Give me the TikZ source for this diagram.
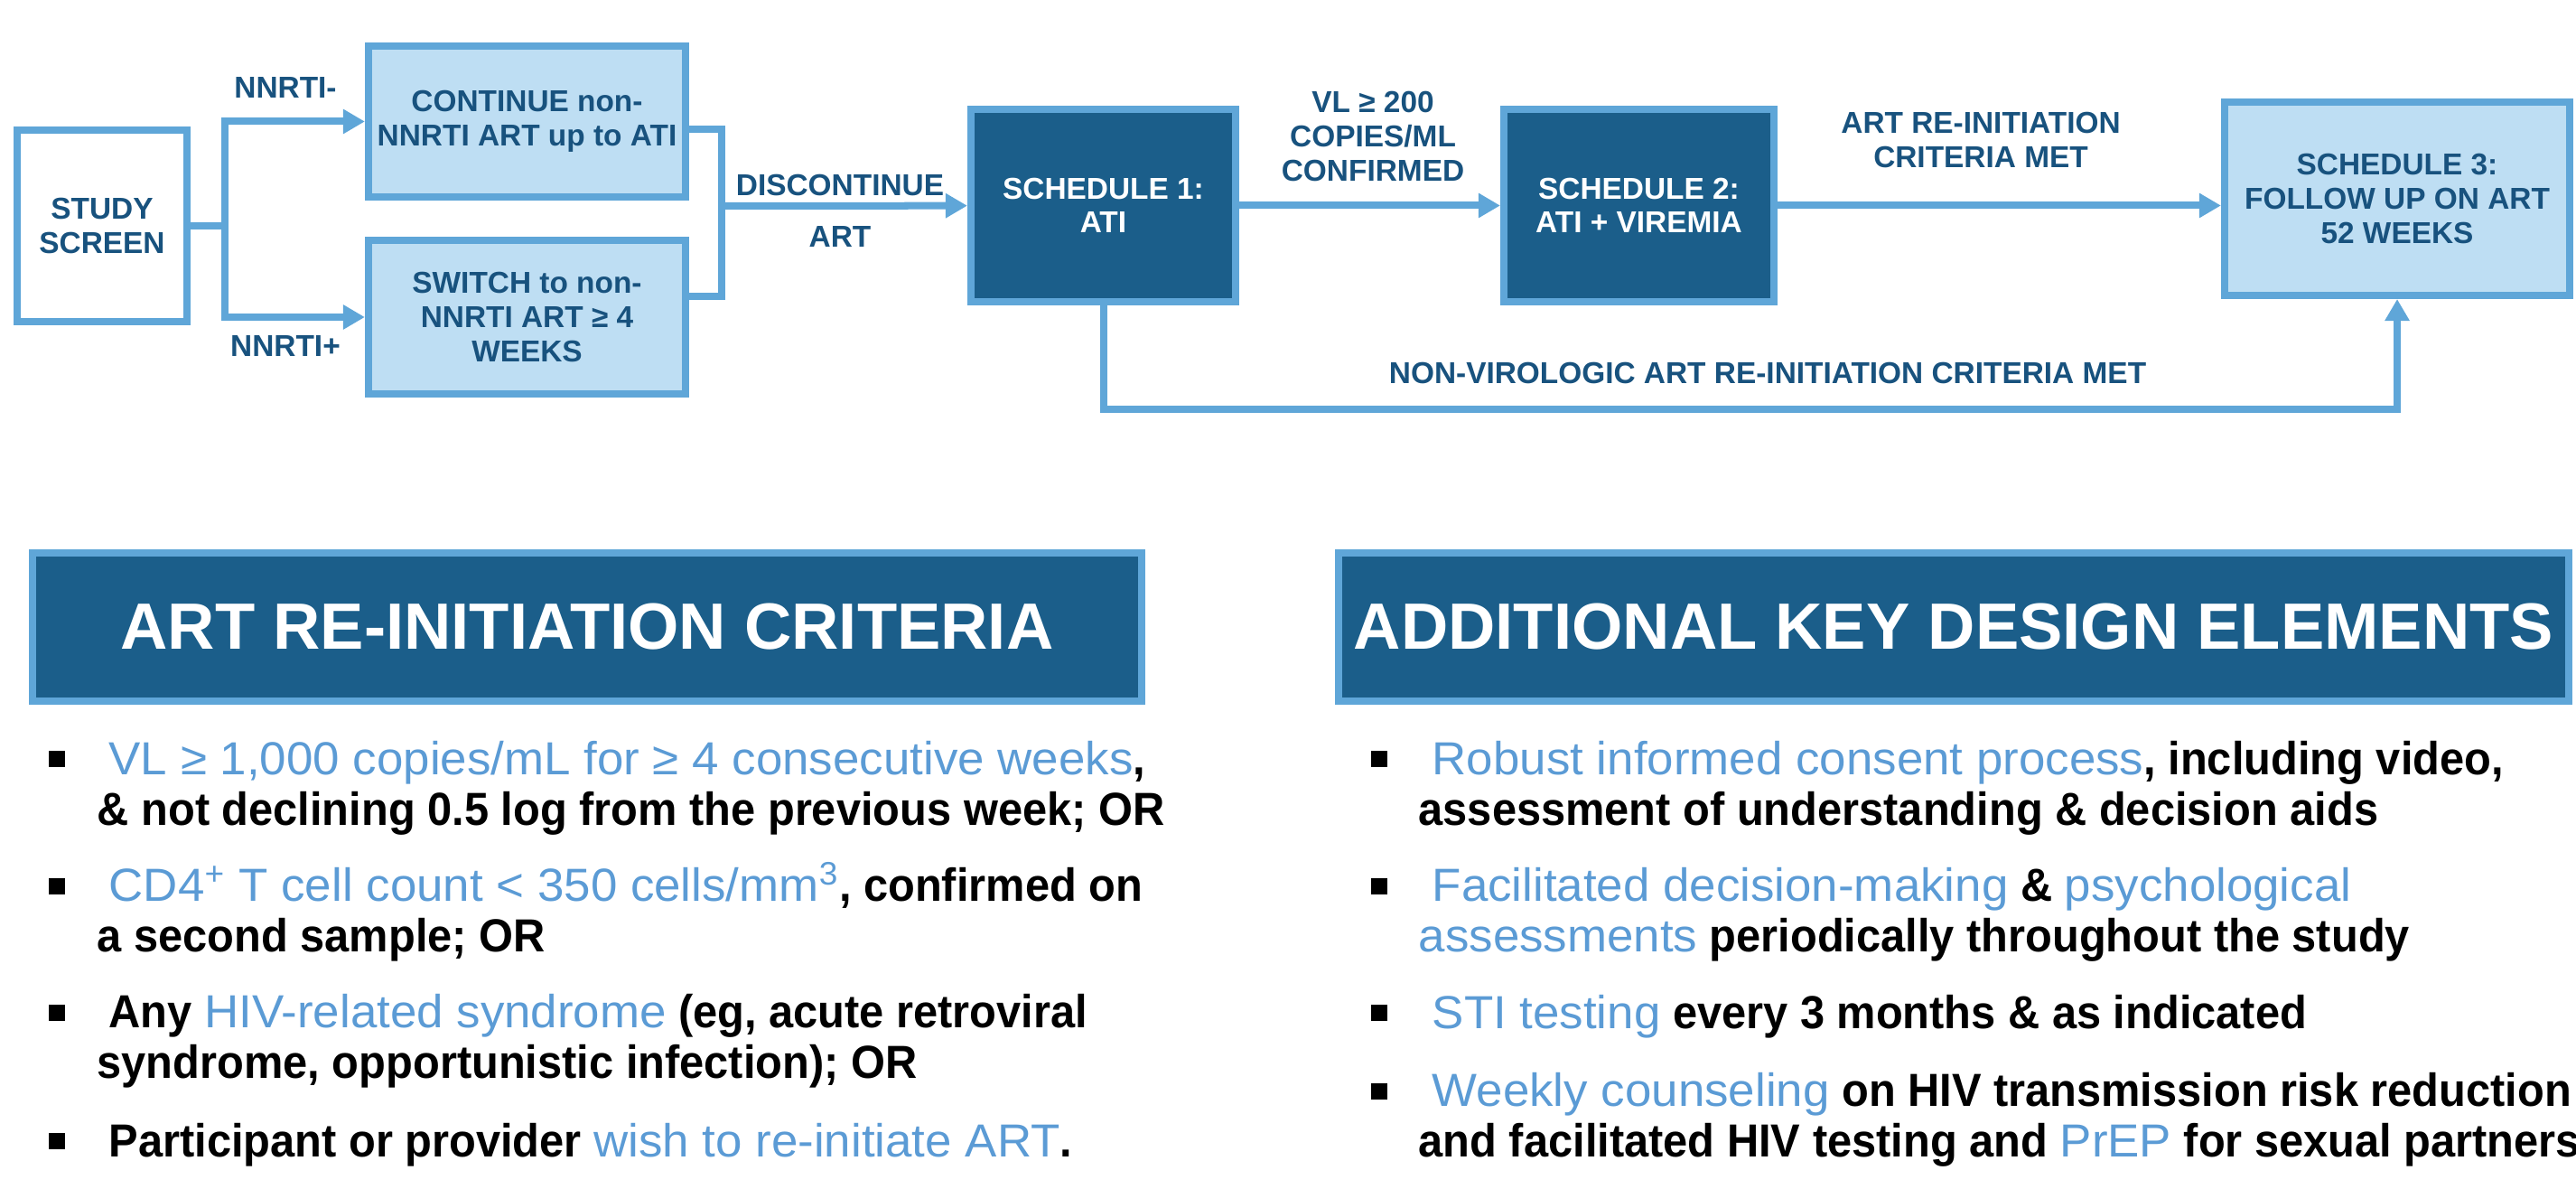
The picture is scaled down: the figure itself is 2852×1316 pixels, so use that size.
\documentclass[tikz,border=0pt]{standalone}
\usepackage{fontspec}
\setmainfont{Liberation Sans}
\newfontfamily\bodyfont{Liberation Sans}[UprightFeatures={FakeStretch=1.03},BoldFeatures={FakeStretch=0.95}]
\usetikzlibrary{arrows.meta, positioning}
\definecolor{navy}{RGB}{27,94,138}
\definecolor{edgeblue}{RGB}{95,166,216}
\definecolor{paleblue}{RGB}{190,222,243}
\definecolor{labelblue}{RGB}{24,82,126}
\definecolor{hlblue}{RGB}{91,155,213}
\newcommand{\hl}[1]{{\mdseries\color{hlblue}#1}}

\begin{document}
\begin{tikzpicture}[x=0.01cm, y=-0.01cm,
    box/.style={rectangle, draw=edgeblue, line width=0.08cm, align=center, inner sep=0,
        font=\bfseries\fontsize{9.5pt}{10.7pt}\selectfont},
    plainbox/.style={box, fill=white, text=labelblue},
    palebox/.style={box, fill=paleblue, text=labelblue},
    darkbox/.style={box, fill=navy, text=white},
    header/.style={rectangle, draw=edgeblue, fill=navy, line width=0.08cm, text=white,
        minimum height=1.64cm, font=\bfseries\fontsize{20.6pt}{24pt}\selectfont},
    flow/.style={draw=edgeblue, line width=0.08cm},
    arr/.style={flow, -{Triangle[length=0.24cm, width=0.26cm]}},
    lbl/.style={text=labelblue, align=center, inner sep=0,
        font=\bfseries\fontsize{9.5pt}{10.7pt}\selectfont},
    item/.style={anchor=base west, align=left, inner sep=0,
        font=\bodyfont\bfseries\fontsize{14.6pt}{15.8pt}\selectfont},
    sq/.style={fill=black, inner sep=0, minimum size=0.18cm}
]
\useasboundingbox (0,0) rectangle (2852,1316);

% Flow chart boxes
\node[plainbox, minimum width=1.88cm, minimum height=2.12cm] (study) at (113,250) {STUDY\\SCREEN};
\node[palebox, minimum width=3.51cm, minimum height=1.67cm] (cont) at (583.5,134.5) {CONTINUE non-\\NNRTI ART up to ATI};
\node[palebox, minimum width=3.51cm, minimum height=1.70cm] (switch) at (583.5,351) {SWITCH to non-\\NNRTI ART ≥ 4\\WEEKS};
\node[darkbox, minimum width=2.93cm, minimum height=2.13cm] (sch1) at (1221.5,227.5) {SCHEDULE 1:\\ATI};
\node[darkbox, minimum width=2.99cm, minimum height=2.13cm] (sch2) at (1814.5,227.5) {SCHEDULE 2:\\ATI + VIREMIA};
\node[palebox, minimum width=3.82cm, minimum height=2.14cm] (sch3) at (2654,220) {SCHEDULE 3:\\FOLLOW UP ON ART\\52 WEEKS};

\coordinate (fork) at (249,250);
\coordinate (merge) at (799,228);

% Connectors
\draw[flow] (study) -- (fork);
\draw[arr] (fork) |- (cont);
\draw[arr] (fork) |- (switch);
\draw[flow] ([yshift=-0.085cm]cont.east) -| (merge) |- ([yshift=0.23cm]switch.east);
\draw[arr] (merge) -- (sch1);
\draw[arr] (sch1) -- (sch2);
\draw[arr] (sch2.east) -- (sch3.west |- sch2.east);
\draw[arr] (sch1.south) -- ++(0,115) -| (sch3.south);

% Connector labels
\node[lbl] (neg) at (316,97) {NNRTI-};
\node[lbl] (pos) at (316,383) {NNRTI+};
\node[lbl] (disc) at (930,205) {DISCONTINUE};
\node[lbl] (discart) at (930,262) {ART};
\node[lbl] (vl) at (1520,151) {VL ≥ 200\\COPIES/ML\\CONFIRMED};
\node[lbl] (crit) at (2193,155) {ART RE-INITIATION\\CRITERIA MET};
\node[lbl] (nonvir) at (1957,413) {NON-VIROLOGIC ART RE-INITIATION CRITERIA MET};

% Headers
\node[header, minimum width=12.28cm] (critHead) at (650,694) {ART RE-INITIATION CRITERIA};
\node[header, minimum width=13.62cm] (designHead) at (2163,694) {ADDITIONAL KEY DESIGN ELEMENTS};

% Left list (anchored on the last line)
\node[sq] (sqA) at (63,840) {};
\node[sq] (sqB) at (63,981) {};
\node[sq] (sqC) at (63,1121) {};
\node[sq] (sqD) at (63,1263) {};
\node[item] (critA) at (107,913) {\hspace{0.13cm}\hl{VL ≥ 1,000 copies/mL for ≥ 4 consecutive weeks},\\\& not declining 0.5 log from the previous week; OR};
\node[item] (critB) at (107,1053) {\hspace{0.13cm}\hl{CD4\textsuperscript{+} T cell count < 350 cells/mm\textsuperscript{3}}, confirmed on\\a second sample; OR};
\node[item] (critC) at (107,1193) {\hspace{0.13cm}Any \hl{HIV-related syndrome} (eg, acute retroviral\\syndrome, opportunistic infection); OR};
\node[item] (critD) at (107,1280) {\hspace{0.13cm}Participant or provider \hl{wish to re-initiate ART}.};

% Right list
\node[sq] (sqE) at (1527,840) {};
\node[sq] (sqF) at (1527,981) {};
\node[sq] (sqG) at (1527,1121) {};
\node[sq] (sqH) at (1527,1208) {};
\node[item] (designA) at (1570,913) {\hspace{0.15cm}\hl{Robust informed consent process}, including video,\\assessment of understanding \& decision aids};
\node[item] (designB) at (1570,1053) {\hspace{0.15cm}\hl{Facilitated decision-making} \& \hl{psychological}\\\hl{assessments} periodically throughout the study};
\node[item] (designC) at (1570,1138) {\hspace{0.15cm}\hl{STI testing} every 3 months \& as indicated};
\node[item] (designD) at (1570,1280) {\hspace{0.15cm}\hl{Weekly counseling} on HIV transmission risk reduction\\and facilitated HIV testing and \hl{PrEP} for sexual partners};
\end{tikzpicture}
\end{document}
